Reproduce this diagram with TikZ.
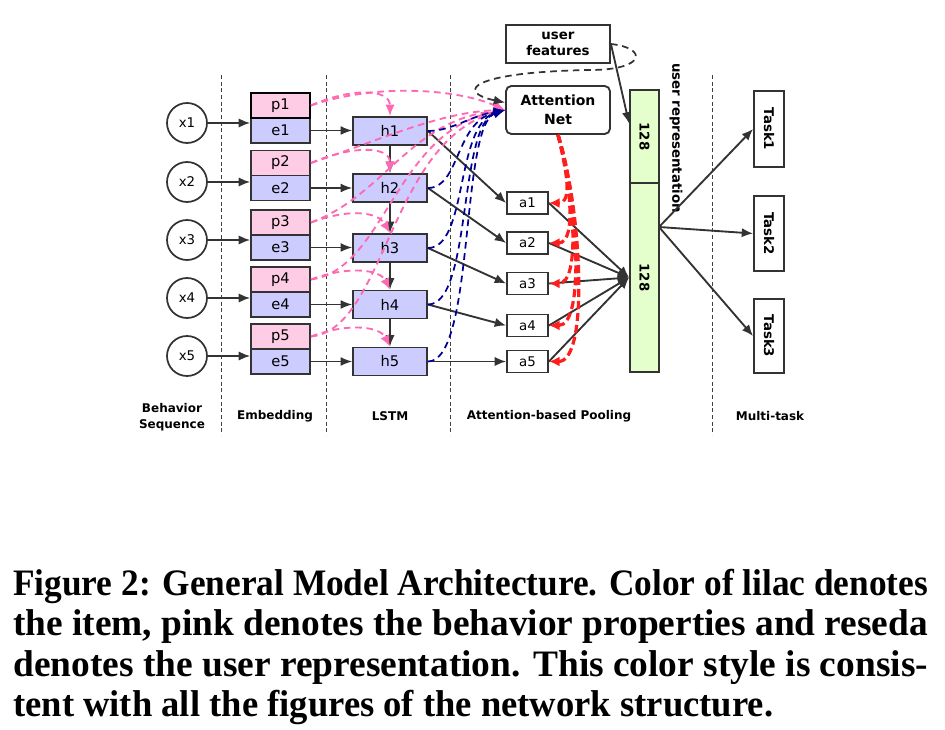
\documentclass[tikz,border=0pt]{standalone}
\usepackage{fontspec}
\setmainfont{DejaVu Sans}
\newfontfamily\capfont{Liberation Serif}
\usetikzlibrary{arrows.meta,calc}
\definecolor{lilac}{RGB}{204,204,255}
\definecolor{pinkf}{RGB}{255,204,229}
\definecolor{reseda}{RGB}{229,255,204}
\definecolor{edge}{RGB}{51,51,51}
\definecolor{pinkl}{RGB}{255,105,180}
\definecolor{bluel}{RGB}{0,0,150}
\definecolor{redl}{RGB}{255,30,30}
\tikzset{
  box/.style={draw=edge, line width=1.4pt, inner sep=0pt, font=\fontsize{11}{13}\selectfont},
  ebox/.style={box, fill=lilac, minimum width=44.25pt, minimum height=18.75pt},
  pbox/.style={box, fill=pinkf, minimum width=44.25pt, minimum height=18.75pt},
  hbox/.style={box, fill=lilac, minimum width=55.5pt, minimum height=21pt},
  abox/.style={box, fill=white, minimum width=30.75pt, minimum height=16.5pt, font=\fontsize{10}{12}\selectfont},
  circ/.style={circle, draw=edge, line width=1.3pt, minimum size=30pt, inner sep=0pt, font=\fontsize{10}{12}\selectfont},
  gbar/.style={box, fill=reseda, minimum width=21.75pt, font=\bfseries\fontsize{10}{12}\selectfont},
  tbox/.style={box, fill=white, minimum width=22.5pt, font=\bfseries\fontsize{10}{12}\selectfont},
  arr/.style={draw=edge, line width=1.4pt, -{Latex[length=8.5pt,width=7pt]}},
  tarr/.style={draw=edge, line width=0.8pt, -{Latex[length=8.5pt,width=6.5pt]}},
  pinkarr/.style={draw=pinkl, line width=1.4pt, dash pattern=on 5pt off 3.5pt, -{Latex[length=8.5pt,width=7pt]}},
  bluearr/.style={draw=bluel, line width=1.3pt, dash pattern=on 5pt off 3.5pt, -{Latex[length=8.5pt,width=7pt]}},
  redarr/.style={draw=redl, line width=2.4pt, dash pattern=on 6pt off 3pt, -{Latex[length=8pt,width=7.5pt]}},
  blkarr/.style={draw=edge, line width=1.3pt, dash pattern=on 5pt off 3.5pt, -{Latex[length=8.5pt,width=7pt]}},
  vsep/.style={draw=black!75, line width=0.5pt, dash pattern=on 3pt off 2pt},
  lab/.style={font=\bfseries\fontsize{9}{12}\selectfont, align=center},
  capline/.style={anchor=base west, inner sep=0pt, font=\capfont\bfseries\fontsize{28}{32}\selectfont}
}
\begin{document}
\begin{tikzpicture}[x=0.75pt,y=-0.75pt]
\useasboundingbox (0,0) rectangle (945,730);
% separators
\draw[vsep] (221,75) -- (221,435);
\draw[vsep] (326,75) -- (326,435);
\draw[vsep] (450,75) -- (450,435);
\draw[vsep] (712,75) -- (712,435);
% behaviour sequence
\node[circ] (x1) at (187,123) {x1};
\node[circ] (x2) at (187,182) {x2};
\node[circ] (x3) at (187,240) {x3};
\node[circ] (x4) at (187,298) {x4};
\node[circ] (x5) at (187,356) {x5};
% embedding
\node[ebox] (e1) at (280.5,130.5) {e1};
\node[ebox] (e2) at (280.5,188) {e2};
\node[ebox] (e3) at (280.5,247.5) {e3};
\node[ebox] (e4) at (280.5,304.5) {e4};
\node[ebox] (e5) at (280.5,361.5) {e5};
\node[pbox, draw=black] (p1) at (280.5,105.5) {p1};
\node[pbox] (p2) at (280.5,163) {p2};
\node[pbox] (p3) at (280.5,222.5) {p3};
\node[pbox] (p4) at (280.5,279.5) {p4};
\node[pbox] (p5) at (280.5,336.5) {p5};
% LSTM
\node[hbox] (h1) at (390,131) {h1};
\node[hbox] (h2) at (390,188) {h2};
\node[hbox] (h3) at (390,248) {h3};
\node[hbox] (h4) at (390,304.5) {h4};
\node[hbox] (h5) at (390,361.5) {h5};
% attention
\node[abox] (a1) at (527.5,203) {a1};
\node[abox] (a2) at (527.5,243) {a2};
\node[abox] (a3) at (527.5,283.5) {a3};
\node[abox] (a4) at (527.5,325.5) {a4};
\node[abox] (a5) at (527.5,361.5) {a5};
\node[box, fill=white, rounded corners=4pt, minimum width=78pt, minimum height=36pt, align=center, font=\bfseries\fontsize{10.5}{14}\selectfont] (att) at (558,110) {Attention\\Net};
\node[box, fill=white, minimum width=78pt, minimum height=28.5pt, align=center, font=\bfseries\fontsize{10}{12.5}\selectfont] (uf) at (558,44) {user\\features};
% user representation
\node[gbar, minimum height=69.75pt] (g1) at (644.5,136.5) {\rotatebox{-90}{128}};
\node[gbar, minimum height=141.75pt] (g2) at (644.5,277.5) {\rotatebox{-90}{128}};
\node[font=\bfseries\fontsize{10}{12}\selectfont, inner sep=0pt] (urep) at (676,138) {\rotatebox{-90}{user representation}};
% tasks
\node[tbox, minimum height=57pt] (t1) at (769,129) {\rotatebox{-90}{Task1}};
\node[tbox, minimum height=56.25pt] (t2) at (769,233.5) {\rotatebox{-90}{Task2}};
\node[tbox, minimum height=55.5pt] (t3) at (769,336) {\rotatebox{-90}{Task3}};
% bottom labels
\node[lab] (lb1) at (172,417) {Behavior\\Sequence};
\node[lab] (lb2) at (275,416) {Embedding};
\node[lab] (lb3) at (390,416) {LSTM};
\node[lab] (lb4) at (549,416) {Attention-based Pooling};
\node[lab] (lb5) at (770,416) {Multi-task};
% x -> embedding
\foreach \i in {1,...,5} {
  \draw[arr] (x\i.east) -- (x\i.east -| e\i.west);
  \draw[tarr] (e\i.east) -- (e\i.east -| h\i.west);
  \draw[arr] (h\i.east) -- (a\i.west);
}
\draw[arr] (h1.south) -- (h2.north);
\draw[arr] (h2.south) -- (h3.north);
\draw[arr] (h3.south) -- (h4.north);
\draw[arr] (h4.south) -- (h5.north);
% pooling into bar
\coordinate (gin) at (g2.west);
\foreach \i in {1,...,5} { \draw[arr] (a\i.east) -- (gin); }
% bar -> tasks
\coordinate (gout) at (659,227);
\draw[arr] (gout) -- (t1.west);
\draw[arr] (gout) -- (t2.west);
\draw[arr] (gout) -- (t3.west);
% user features -> bar
\draw[arr] (uf.east) -- ($(g1.west)+(0,-13)$);
% pink: p -> h
\draw[pinkarr] (p1.east) .. controls (350,88) and (390,88) .. (h1.north);
\draw[pinkarr] (p2.east) .. controls (350,146) and (390,145) .. (h2.north);
\draw[pinkarr] (p3.east) .. controls (350,208) and (378,212) .. (h3.north);
\draw[pinkarr] (p4.east) .. controls (350,265) and (380,270) .. (h4.north);
\draw[pinkarr] (p5.east) .. controls (350,322) and (380,327) .. (h5.north);
% pink: p -> attention
\draw[pinkarr] (p1.east) .. controls (380,82) and (460,90) .. (att.west);
\draw[pinkarr] (p2.east) .. controls (380,140) and (440,112) .. (att.west);
\draw[pinkarr] (p3.east) .. controls (385,195) and (410,120) .. (att.west);
\draw[pinkarr] (p4.east) .. controls (385,270) and (395,130) .. (att.west);
\draw[pinkarr] (p5.east) .. controls (385,330) and (390,140) .. (att.west);
% blue: h -> attention
\draw[bluearr] (h1.east) .. controls (452,131) and (470,116) .. (att.west);
\draw[bluearr] (h2.east) .. controls (460,188) and (455,122) .. (att.west);
\draw[bluearr] (h3.east) .. controls (468,248) and (455,125) .. (att.west);
\draw[bluearr] (h4.east) .. controls (472,304.5) and (458,125) .. (att.west);
\draw[bluearr] (h5.east) .. controls (475,361.5) and (460,125) .. (att.west);
% red: attention -> a
\draw[redarr] (att.south) .. controls (565,165) and (574,203) .. (a1.east);
\draw[redarr] (att.south) .. controls (569,175) and (578,243) .. (a2.east);
\draw[redarr] (att.south) .. controls (573,185) and (582,283.5) .. (a3.east);
\draw[redarr] (att.south) .. controls (577,195) and (586,325.5) .. (a4.east);
\draw[redarr] (att.south) .. controls (581,205) and (590,361.5) .. (a5.east);
% black loop: user features -> attention
\draw[blkarr] (uf.east) .. controls (648,48) and (646,70) .. (590,70) .. controls (470,72) and (455,92) .. (att.172);
% caption
\node[capline] (c1) at (13,595) {\resizebox{686pt}{\height}{Figure 2: General Model Architecture. Color of lilac denotes}};
\node[capline] (c2) at (13,635) {\resizebox{686pt}{\height}{the item, pink denotes the behavior properties and reseda}};
\node[capline] (c3) at (13,676) {\resizebox{686pt}{\height}{denotes the user representation. This color style is consis-}};
\node[capline] (c4) at (13,716) {\resizebox{570pt}{\height}{tent with all the figures of the network structure.}};
\end{tikzpicture}
\end{document}
